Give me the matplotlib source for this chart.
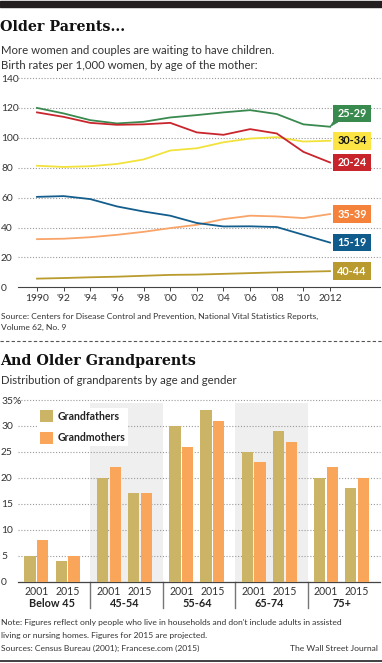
import matplotlib
matplotlib.use("Agg")
import matplotlib.pyplot as plt
from matplotlib.patches import Rectangle, Polygon
from matplotlib.lines import Line2D
import matplotlib.transforms as mtransforms

# ---------------- data ----------------
years = [1990, 1992, 1994, 1996, 1998, 2000, 2002, 2004, 2006, 2008, 2010, 2012]
year_labels = ["1990", "'92", "'94", "'96", "'98", "'00", "'02", "'04", "'06", "'08", "'10", "2012"]
rate_25_29 = [120, 116.3, 111.8, 109.6, 110.7, 113.6, 115.2, 117, 118.5, 115.9, 109, 107.4]
rate_20_24 = [117, 114, 110, 108.7, 109, 110, 103.6, 102, 105.8, 102.9, 90.6, 83.5]
rate_30_34 = [81.3, 80.5, 81, 82.5, 85.5, 91.5, 93, 97, 99.5, 100.4, 97.5, 98]
rate_35_39 = [32.2, 32.5, 33.5, 35.1, 37.1, 39.6, 41.8, 45.6, 47.9, 47.4, 46.3, 49]
rate_15_19 = [60.5, 61, 59, 54.1, 50.7, 47.9, 43, 40.7, 40.8, 40.3, 35.1, 29.9]
rate_40_44 = [5.8, 6.2, 6.7, 7.1, 7.7, 8.3, 8.5, 9.0, 9.5, 10.0, 10.4, 10.8]
series_names = ["25-29", "30-34", "20-24", "35-39", "15-19", "40-44"]
y_ticks_top = [0, 20, 40, 60, 80, 100, 120, 140]

age_groups = ["Below 45", "45-54", "55-64", "65-74", "75+"]
survey_years = ["2001", "2015"]
grandfathers_2001 = [5, 20, 30, 25, 20]
grandmothers_2001 = [8, 22, 26, 23, 22]
grandfathers_2015 = [4, 17, 33, 29, 18]
grandmothers_2015 = [5, 17, 31, 27, 20]
y_ticks_bottom = [0, 5, 10, 15, 20, 25, 30, 35]
y_tick_labels_bottom = ["0", "5", "10", "15", "20", "25", "30", "35%"]

# ---------------- styles ----------------
W, H = 382, 663
FONT = "Lato"
plt.rcParams["font.family"] = [FONT, "DejaVu Sans"]
TEXT = "#333333"
GRID = "#9a9a9a"
colors = {
    "25-29": ("#3a8a50", "#388a4e", "white"),
    "30-34": ("#f2e23c", "#fbe443", "#111111"),
    "20-24": ("#c9252d", "#c8242b", "white"),
    "35-39": ("#f9a468", "#f5823b", "white"),
    "15-19": ("#135e8c", "#0e5b8c", "white"),
    "40-44": ("#b99b2e", "#b89a2e", "white"),
}
series_data = {"25-29": rate_25_29, "30-34": rate_30_34, "20-24": rate_20_24,
               "35-39": rate_35_39, "15-19": rate_15_19, "40-44": rate_40_44}
GF_COLOR = "#cbb465"
GM_COLOR = "#f9a65b"


def rect(l, t, r, b):
    return [l / W, 1 - b / H, (r - l) / W, (b - t) / H]


def fy(y):
    return 1 - y / H


fig = plt.figure(figsize=(W / 100, H / 100), dpi=100)
fig.patch.set_facecolor("white")

# top black bar and bottom rule
fig.patches.append(Rectangle((0, fy(7)), 1, 6 / H, transform=fig.transFigure,
                             color="#231f20", zorder=0))
fig.lines.append(Line2D([0, 1], [fy(660.5), fy(660.5)], transform=fig.transFigure,
                        color="#231f20", lw=1.2))
# dashed separator
fig.lines.append(Line2D([0, 1], [fy(341), fy(341)], transform=fig.transFigure,
                        color="#555555", lw=0.8, linestyle=(0, (3, 2))))

SMALL = 6.1
SUB = 8.2
TITLE = 10.3
# titles
fig.text(0.0, fy(27), "Older Parents...", family=["DejaVu Serif"], fontweight="bold",
         fontsize=TITLE, va="center", ha="left", color="#111111")
fig.text(0.003, fy(51), "More women and couples are waiting to have children.",
         fontsize=SUB, va="center", ha="left", color=TEXT)
fig.text(0.003, fy(65.5), "Birth rates per 1,000 women, by age of the mother:",
         fontsize=SUB, va="center", ha="left", color=TEXT)
fig.text(0.003, fy(316.7), "Source: Centers for Disease Control and Prevention, National Vital Statistics Reports,",
         fontsize=SMALL, va="center", ha="left", color=TEXT)
fig.text(0.003, fy(327.5), "Volume 62, No. 9", fontsize=SMALL, va="center", ha="left", color=TEXT)

fig.text(0.0, fy(361), "And Older Grandparents", family=["DejaVu Serif"], fontweight="bold",
         fontsize=TITLE, va="center", ha="left", color="#111111")
fig.text(0.003, fy(380.7), "Distribution of grandparents by age and gender",
         fontsize=SUB, va="center", ha="left", color=TEXT)

fig.text(0.003, fy(622.7), "Note: Figures reflect only people who live in households and don't include adults in assisted",
         fontsize=SMALL, va="center", ha="left", color=TEXT)
fig.text(0.003, fy(635.5), "living or nursing homes. Figures for 2015 are projected.",
         fontsize=SMALL, va="center", ha="left", color=TEXT)
fig.text(0.003, fy(648.5), "Sources: Census Bureau (2001); Francese.com (2015)",
         fontsize=SMALL, va="center", ha="left", color=TEXT)
fig.text(0.99, fy(648.5), "The Wall Street Journal",
         fontsize=SMALL, va="center", ha="right", color=TEXT)

# ---------------- top chart ----------------
ax = fig.add_axes(rect(18, 78, 380, 287.3))
ax.set_xlim(1990 - 19 / 13.32, 1990 + 343 / 13.32)
ax.set_ylim(0, 140)
for s in ["top", "right", "left"]:
    ax.spines[s].set_visible(False)
ax.spines["bottom"].set_color("#444444")
ax.spines["bottom"].set_linewidth(0.8)
for v in y_ticks_top[1:]:
    ax.axhline(v, color=GRID, lw=0.8, linestyle=(0, (1, 1.6)), zorder=1, clip_on=False)
ax.set_yticks(y_ticks_top)
ax.set_yticklabels([str(v) for v in y_ticks_top])
ax.tick_params(axis="y", length=0, pad=12.2, labelsize=7.4, labelcolor=TEXT)
for lab in ax.get_yticklabels():
    lab.set_horizontalalignment("left")
ax.set_xticks(years)
ax.set_xticklabels(year_labels)
ax.tick_params(axis="x", length=3, width=0.7, color="#444444", direction="out",
               labelsize=7.4, labelcolor=TEXT, pad=2)

for name in series_names:
    ax.plot(years, series_data[name], color=colors[name][0], lw=1.3, zorder=3,
            solid_joinstyle="round")

# label boxes
blend = mtransforms.blended_transform_factory(ax.transAxes, ax.transData)
px_x = 1 / 362.0
px_y = 140 / 209.3
box_l = (333 - 18) * px_x
box_w = 38 * px_x
box_h = 17.5 * px_y
label_offset = {"25-29": 9.0}
for name in series_names:
    yc = series_data[name][-1] + label_offset.get(name, 0)
    line_c, box_c, txt_c = colors[name]
    ax.add_patch(Rectangle((box_l, yc - box_h / 2), box_w, box_h, transform=blend,
                           facecolor=box_c, edgecolor="none", zorder=5, clip_on=False))
    ax.text(box_l + box_w / 2, yc, name, transform=blend, ha="center", va="center",
            fontsize=7.8, fontweight="bold", color=txt_c, zorder=6)
    if name in label_offset:
        end_x = (years[-1] - ax.get_xlim()[0]) / (ax.get_xlim()[1] - ax.get_xlim()[0])
        ax.add_patch(Polygon([(end_x, series_data[name][-1]),
                              (box_l, yc - box_h / 2),
                              (box_l + 5 * px_x, yc - box_h / 2)],
                             closed=True, transform=blend, facecolor=box_c,
                             edgecolor=box_c, lw=0.5, zorder=4, clip_on=False))

# ---------------- bottom chart ----------------
bx = fig.add_axes(rect(18, 400, 380, 581.7))
n = len(age_groups)
bx.set_xlim(0, n)
bx.set_ylim(0, 35)
for s in ["top", "right", "left"]:
    bx.spines[s].set_visible(False)
bx.spines["bottom"].set_color("#444444")
bx.spines["bottom"].set_linewidth(0.9)
for i in range(n):
    if i % 2 == 1:
        bx.axvspan(i, i + 1, ymin=0, ymax=0.985, color="#efefef", zorder=0, lw=0)
for v in y_ticks_bottom[1:]:
    bx.axhline(v, color=GRID, lw=0.8, linestyle=(0, (1, 1.6)), zorder=1, clip_on=False)
bx.set_yticks(y_ticks_bottom)
bx.set_yticklabels(y_tick_labels_bottom)
bx.tick_params(axis="y", length=0, pad=12.2, labelsize=7.4, labelcolor=TEXT)
for lab in bx.get_yticklabels():
    lab.set_horizontalalignment("left")
bx.set_xticks([])

centers = [0.255, 0.685]
bw = 0.156
off = 0.088
gf = [grandfathers_2001, grandfathers_2015]
gm = [grandmothers_2001, grandmothers_2015]
for k, c in enumerate(centers):
    xs = [i + c for i in range(n)]
    bx.bar([x - off for x in xs], gf[k], width=bw, color=GF_COLOR, zorder=3, lw=0)
    bx.bar([x + off for x in xs], gm[k], width=bw, color=GM_COLOR, zorder=3, lw=0)

bblend = mtransforms.blended_transform_factory(bx.transData, bx.transAxes)
ah = 181.7
for i in range(n):
    for k, c in enumerate(centers):
        bx.text(i + c, -10 / ah, survey_years[k], transform=bblend, ha="center",
                va="center", fontsize=7.6, color=TEXT)
    bx.text(i + 0.47, -21.6 / ah, age_groups[i], transform=bblend, ha="center",
            va="center", fontsize=7.8, fontweight="bold", color="#222222")
for i in range(1, n):
    bx.plot([i, i], [0, -26.5 / ah], transform=bblend, color="#777777", lw=1.0,
            clip_on=False)

# legend (white box)
fig.patches.append(Rectangle((37 / W, fy(446)), 91 / W, 38 / H, transform=fig.transFigure,
                             facecolor="white", edgecolor="none", zorder=4))
fig.patches.append(Rectangle((40 / W, fy(422)), 13 / W, 12 / H, transform=fig.transFigure,
                             facecolor=GF_COLOR, edgecolor="none", zorder=5))
fig.patches.append(Rectangle((40 / W, fy(443.5)), 13 / W, 12 / H, transform=fig.transFigure,
                             facecolor=GM_COLOR, edgecolor="none", zorder=5))
fig.text(58 / W, fy(416), "Grandfathers", fontsize=7.6, fontweight="bold", va="center",
         ha="left", color="#222222", zorder=6)
fig.text(58 / W, fy(437.5), "Grandmothers", fontsize=7.6, fontweight="bold", va="center",
         ha="left", color="#222222", zorder=6)

fig.savefig("out.png", dpi=100, facecolor="white")
